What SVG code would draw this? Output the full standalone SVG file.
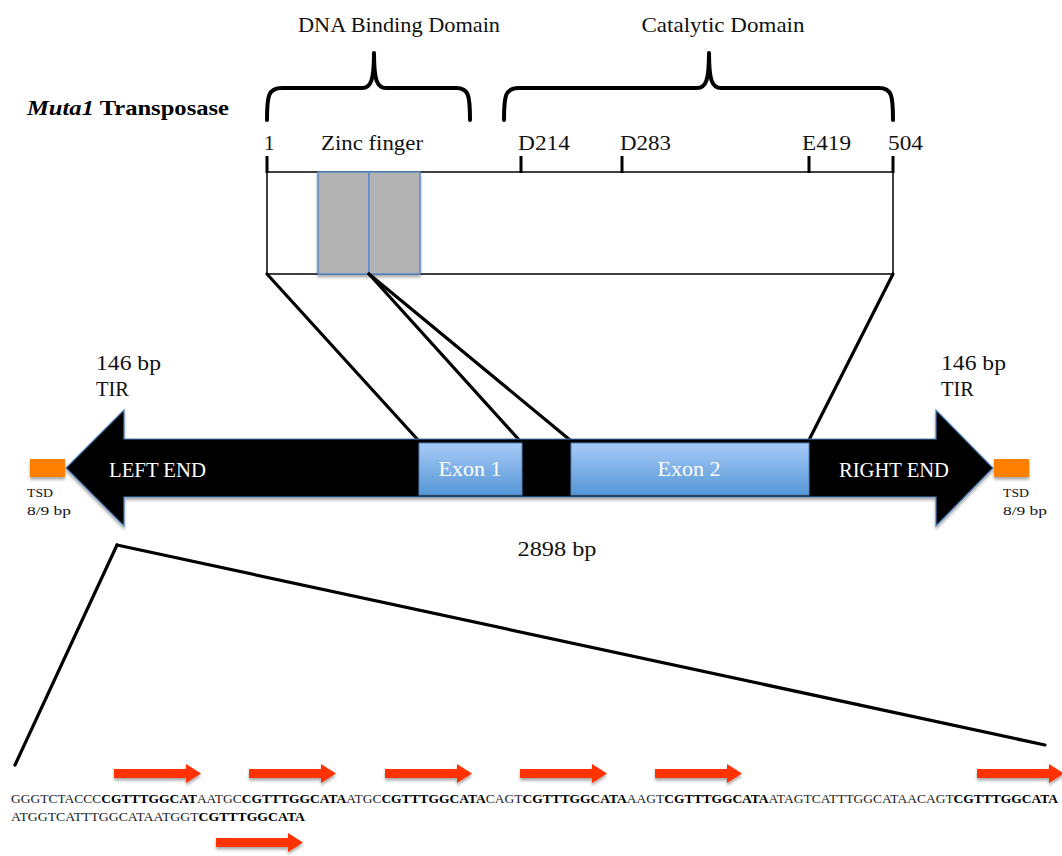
<svg xmlns="http://www.w3.org/2000/svg" width="1062" height="856" viewBox="0 0 1062 856">
  <style>
    text { font-family: "Liberation Serif", "Times New Roman", serif; fill: #111; }
    .lbl { font-size: 21px; }
    .big { font-size: 22px; }
    .wht { fill: #ffffff; font-size: 21px; }
    .small { font-size: 13px; }
    .seq { font-size: 13px; fill: #222; }
    .b { font-weight: bold; fill: #000; }
    .brace { fill: none; stroke: #000; stroke-width: 4; stroke-linecap: round; stroke-linejoin: round; }
    .tick { stroke: #000; stroke-width: 3; }
    .link { stroke: #000; stroke-width: 3.2; stroke-linecap: round; fill: none; }
    .repeat { fill: #ff3000; }
    .zf { fill: #b3b3b3; stroke: #5b8dc9; stroke-width: 1.5; }
    .exon { fill: url(#exonGrad); stroke: #4f81bd; stroke-width: 1; }
    .tsd { fill: #ff7f00; }
  </style>
  <defs>
    <linearGradient id="exonGrad" x1="0" y1="0" x2="0" y2="1">
      <stop offset="0" stop-color="#a8cbf7"/>
      <stop offset="1" stop-color="#5596d6"/>
    </linearGradient>
    <filter id="shadow" x="-5%" y="-20%" width="110%" height="150%">
      <feDropShadow dx="0" dy="2.5" stdDeviation="1.8" flood-color="#000" flood-opacity="0.35"/>
    </filter>
  </defs>

  <rect width="1062" height="856" fill="#ffffff"/>

  <!-- Protein header -->
  <g id="title">
    <text class="big b" x="27" y="115" textLength="202" lengthAdjust="spacingAndGlyphs"><tspan font-style="italic">Muta1</tspan> Transposase</text>
  </g>

  <g id="dna-binding-domain">
    <text class="big" x="399" y="32" text-anchor="middle" textLength="202" lengthAdjust="spacingAndGlyphs">DNA Binding Domain</text>
    <path class="brace" d="M267,120 C267,96 268,88 282,88 L362,88 C371,88 374,80 374,53 C374,80 377,88 386,88 L456,88 C469,88 470,96 470,120"/>
  </g>

  <g id="catalytic-domain">
    <text class="big" x="723" y="32" text-anchor="middle" textLength="163" lengthAdjust="spacingAndGlyphs">Catalytic Domain</text>
    <path class="brace" d="M504,120 C504,96 505,88 519,88 L697,88 C706,88 709,80 709,53 C709,80 712,88 721,88 L879,88 C892,88 893,96 893,120"/>
  </g>

  <!-- Protein bar with residue ticks -->
  <g id="protein">
    <rect x="267" y="172" width="626" height="102" fill="#ffffff"/>
    <line x1="267" y1="172" x2="893" y2="172" stroke="#000" stroke-width="1.5"/>
    <line x1="267" y1="274" x2="893" y2="274" stroke="#3f3f3f" stroke-width="2.2"/>
    <line x1="267" y1="172" x2="267" y2="274" stroke="#000" stroke-width="1.5"/>
    <line x1="893" y1="172" x2="893" y2="274" stroke="#000" stroke-width="1.5"/>
    <g id="zinc-finger" filter="url(#shadow)">
      <rect class="zf" x="318" y="172" width="51" height="102"/>
      <rect class="zf" x="369" y="172" width="51" height="102"/>
    </g>
    <line class="tick" x1="267" y1="156" x2="267" y2="173"/>
    <line class="tick" x1="521" y1="156" x2="521" y2="173"/>
    <line class="tick" x1="622" y1="156" x2="622" y2="173"/>
    <line class="tick" x1="809" y1="156" x2="809" y2="173"/>
    <line class="tick" x1="893" y1="156" x2="893" y2="173"/>
    <text class="lbl" x="264" y="150">1</text>
    <text class="lbl" x="321" y="150" textLength="102" lengthAdjust="spacingAndGlyphs">Zinc finger</text>
    <text class="lbl" x="518" y="150" textLength="52" lengthAdjust="spacingAndGlyphs">D214</text>
    <text class="lbl" x="620" y="150" textLength="51" lengthAdjust="spacingAndGlyphs">D283</text>
    <text class="lbl" x="802" y="150" textLength="49" lengthAdjust="spacingAndGlyphs">E419</text>
    <text class="lbl" x="888" y="150" textLength="35" lengthAdjust="spacingAndGlyphs">504</text>
  </g>

  <!-- Mapping lines between protein and gene -->
  <g id="connectors">
    <line class="link" x1="267" y1="274" x2="418" y2="440"/>
    <line class="link" x1="369" y1="274" x2="521" y2="442"/>
    <line class="link" x1="369" y1="274" x2="570" y2="440"/>
    <line class="link" x1="893" y1="274" x2="809" y2="440"/>
    <line class="link" x1="117" y1="545" x2="15" y2="765"/>
    <line class="link" x1="117" y1="545" x2="1045" y2="745"/>
  </g>

  <!-- Element: double-headed arrow with exons -->
  <g id="element">
    <path d="M66,468 L124,410 L124,439 L936,439 L936,410 L993,468 L936,526 L936,497 L124,497 L124,526 Z" fill="#000" stroke="#4f81bd" stroke-width="1.2" filter="url(#shadow)"/>
    <g id="exon-1">
      <rect class="exon" x="419" y="443" width="103" height="52"/>
      <text class="wht" x="470" y="476" text-anchor="middle" textLength="63" lengthAdjust="spacingAndGlyphs">Exon 1</text>
    </g>
    <g id="exon-2">
      <rect class="exon" x="571" y="443" width="238" height="52"/>
      <text class="wht" x="689" y="476" text-anchor="middle" textLength="63" lengthAdjust="spacingAndGlyphs">Exon 2</text>
    </g>
    <text class="wht" x="109" y="477" textLength="97" lengthAdjust="spacingAndGlyphs">LEFT END</text>
    <text class="wht" x="839" y="477" textLength="110" lengthAdjust="spacingAndGlyphs">RIGHT END</text>
    <text class="lbl" x="557" y="556" text-anchor="middle" textLength="79" lengthAdjust="spacingAndGlyphs">2898 bp</text>
  </g>

  <g id="tir-left">
    <text class="big" x="96" y="370" textLength="65" lengthAdjust="spacingAndGlyphs">146 bp</text>
    <text class="big" x="96" y="396" textLength="33" lengthAdjust="spacingAndGlyphs">TIR</text>
  </g>
  <g id="tir-right">
    <text class="big" x="941" y="370" textLength="65" lengthAdjust="spacingAndGlyphs">146 bp</text>
    <text class="big" x="941" y="396" textLength="33" lengthAdjust="spacingAndGlyphs">TIR</text>
  </g>

  <g id="tsd-left">
    <rect class="tsd" x="30" y="459" width="35" height="18" filter="url(#shadow)"/>
    <text class="small" x="27" y="497" textLength="26" lengthAdjust="spacingAndGlyphs">TSD</text>
    <text class="small" x="27" y="515" textLength="44" lengthAdjust="spacingAndGlyphs">8/9 bp</text>
  </g>
  <g id="tsd-right">
    <rect class="tsd" x="994" y="459" width="35" height="18" filter="url(#shadow)"/>
    <text class="small" x="1003" y="497" textLength="26" lengthAdjust="spacingAndGlyphs">TSD</text>
    <text class="small" x="1003" y="515" textLength="44" lengthAdjust="spacingAndGlyphs">8/9 bp</text>
  </g>

  <!-- Left-end sequence with repeat motifs -->
  <g id="repeats" filter="url(#shadow)">
    <path class="repeat" d="M114,769 h72 v-5 l15,9.5 l-15,9.5 v-5 h-72 Z"/>
    <path class="repeat" d="M249,769 h72 v-5 l15,9.5 l-15,9.5 v-5 h-72 Z"/>
    <path class="repeat" d="M385,769 h72 v-5 l15,9.5 l-15,9.5 v-5 h-72 Z"/>
    <path class="repeat" d="M520,769 h72 v-5 l15,9.5 l-15,9.5 v-5 h-72 Z"/>
    <path class="repeat" d="M655,769 h72 v-5 l15,9.5 l-15,9.5 v-5 h-72 Z"/>
    <path class="repeat" d="M977,769 h72 v-5 l15,9.5 l-15,9.5 v-5 h-72 Z"/>
    <path class="repeat" d="M216,838 h72 v-5 l15,9.5 l-15,9.5 v-5 h-72 Z"/>
  </g>

  <g id="sequence">
    <text class="seq" x="11" y="803" textLength="1047" lengthAdjust="spacingAndGlyphs">GGGTCTACCC<tspan class="b">CGTTTGGCAT</tspan>AATGC<tspan class="b">CGTTTGGCATA</tspan>ATGC<tspan class="b">CGTTTGGCATA</tspan>CAGT<tspan class="b">CGTTTGGCATA</tspan>AAGT<tspan class="b">CGTTTGGCATA</tspan>ATAGTCATTTGGCATAACAGT<tspan class="b">CGTTTGGCATA</tspan></text>
    <text class="seq" x="11" y="821" textLength="294" lengthAdjust="spacingAndGlyphs">ATGGTCATTTGGCATAATGGT<tspan class="b">CGTTTGGCATA</tspan></text>
  </g>
</svg>
